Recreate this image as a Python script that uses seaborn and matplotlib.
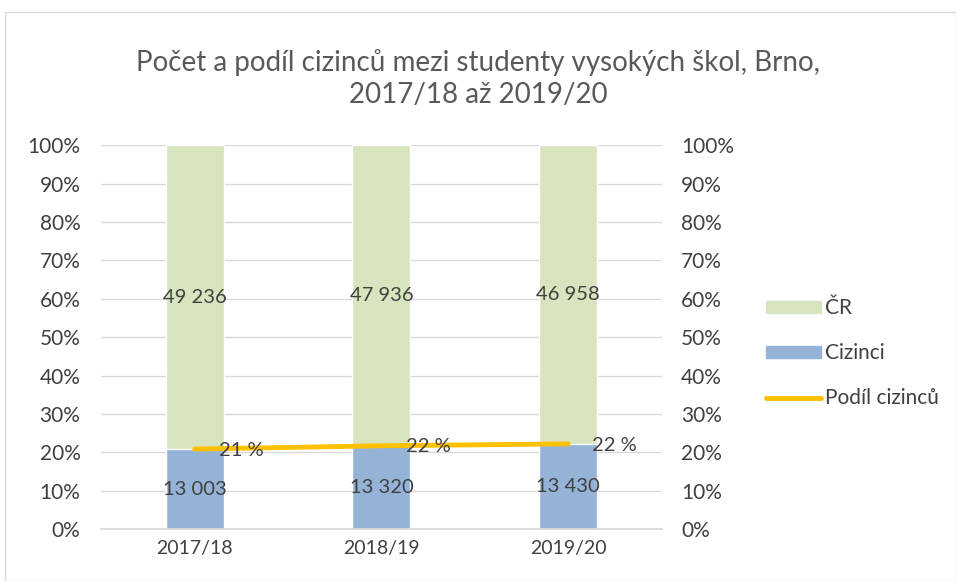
import pandas as pd
import numpy as np
import matplotlib.pyplot as plt
import seaborn as sns
from matplotlib.patches import Patch, Rectangle
from matplotlib.lines import Line2D

# Data
roky = ['2017/18', '2018/19', '2019/20']
cizinci = [13003, 13320, 13430]
cr = [49236, 47936, 46958]

sns.set_theme(style='white')
plt.rcParams['font.family'] = ['Lato', 'DejaVu Sans']

df = pd.DataFrame({'rok': roky, 'Cizinci': cizinci, 'ČR': cr})
df['celkem'] = df['Cizinci'] + df['ČR']
df['podil'] = df['Cizinci'] / df['celkem'] * 100
df['full'] = 100.0

c_cr = '#D7E4BD'
c_ciz = '#95B3D7'
c_line = '#FFC000'
c_txt = '#404040'

fig = plt.figure(figsize=(9.56, 5.81), dpi=100)
ax = fig.add_axes([0.106, 0.089, 0.586, 0.661])

sns.barplot(data=df, x='rok', y='full', color=c_cr, width=0.31, ax=ax, saturation=1)
sns.barplot(data=df, x='rok', y='podil', color=c_ciz, width=0.31, ax=ax, saturation=1)
sns.lineplot(data=df, x='rok', y='podil', color=c_line, lw=3.5, ax=ax, sort=False)

for i, r in df.iterrows():
    ax.text(i, r['podil'] / 2, f"{r['Cizinci']:,}".replace(',', ' '),
            ha='center', va='center', fontsize=14.5, color=c_txt)
    ax.text(i, r['podil'] + (100 - r['podil']) / 2, f"{r['ČR']:,}".replace(',', ' '),
            ha='center', va='center', fontsize=14.5, color=c_txt)
    ax.text(i + 0.13, r['podil'] - 0.3, f"{r['podil']:.0f} %",
            ha='left', va='center', fontsize=14.5, color=c_txt)

ax.set_xlim(-0.5, 2.5)
ax.set_ylim(0, 100)
ax.set_yticks(np.arange(0, 101, 10))
ax.set_yticklabels([f'{v}%' for v in range(0, 101, 10)])
ax.yaxis.grid(True, color='#D9D9D9', lw=1)
ax.set_axisbelow(True)
ax.set_xlabel('')
ax.set_ylabel('')
for s in ['top', 'left', 'right']:
    ax.spines[s].set_visible(False)
ax.spines['bottom'].set_color('#D9D9D9')
ax.tick_params(axis='y', labelsize=15, colors=c_txt, length=0, pad=15)
ax.tick_params(axis='x', labelsize=14, colors=c_txt, length=0, pad=8)

ax2 = ax.twinx()
ax2.set_ylim(0, 100)
ax2.set_yticks(np.arange(0, 101, 10))
ax2.set_yticklabels([f'{v}%' for v in range(0, 101, 10)])
for s in ax2.spines.values():
    s.set_visible(False)
ax2.tick_params(axis='y', labelsize=15, colors=c_txt, length=0, pad=14)

fig.text(0.5, 0.865, 'Počet a podíl cizinců mezi studenty vysokých škol, Brno,\n2017/18 až 2019/20',
         ha='center', va='center', fontsize=20, color='#595959', linespacing=1.3)

handles = [Patch(color=c_cr, label='ČR'), Patch(color=c_ciz, label='Cizinci'),
           Line2D([], [], color=c_line, lw=3.5, label='Podíl cizinců')]
fig.legend(handles=handles, loc='center left', bbox_to_anchor=(0.782, 0.392), frameon=False,
           fontsize=15, labelcolor=c_txt, labelspacing=1.2, handlelength=2.6, handleheight=0.5,
           handletextpad=0.2)

fig.patches.append(Rectangle((0.005, 0.0), 0.995, 0.98, transform=fig.transFigure,
                             fill=False, ec='#D9D9D9', lw=1))

fig.savefig('out.png', dpi=100)
